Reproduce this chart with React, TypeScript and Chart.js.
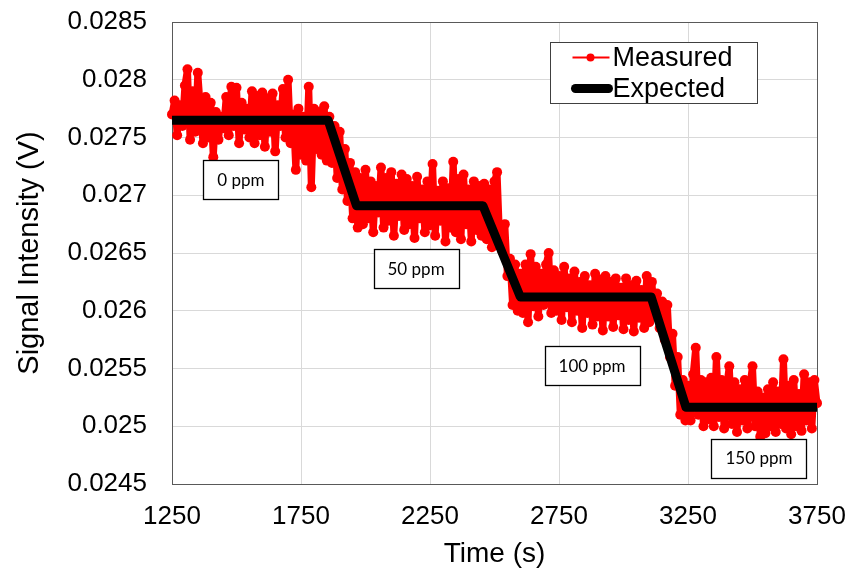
import React, { useEffect, useRef } from "react";
import { Chart, registerables } from "chart.js";

Chart.register(...registerables);

// ---- data ----
const sampleStart = 1250; // s
const sampleStep = 10; // s between measured samples

// Measured signal (V), one value per sample, 1250 s .. 3750 s
const measuredSeg0 = [
  0.0277, 0.02782, 0.02752, 0.02778, 0.0276, 0.02795, 0.02809, 0.02748, 0.0279, 0.02755,
  0.02806, 0.02775, 0.02745, 0.02785, 0.0275, 0.0278, 0.02733, 0.02772, 0.02748, 0.02768,
  0.02758, 0.02785, 0.02752, 0.02794, 0.0276, 0.02793, 0.02745, 0.0278, 0.02757, 0.02775,
  0.0275, 0.0279, 0.02745, 0.02786, 0.02752, 0.02789, 0.02742, 0.02784, 0.02755, 0.02788,
  0.02738, 0.02778, 0.0276, 0.02792, 0.0275, 0.028, 0.02745, 0.0277, 0.02722, 0.02775,
  0.02735, 0.02768, 0.0273, 0.02794, 0.02707, 0.02775, 0.0274, 0.02772, 0.02735, 0.02777,
  0.0273,
];
const measuredSeg1 = [
  0.02768, 0.02728, 0.0276, 0.02715, 0.02755, 0.02705, 0.0274, 0.02695, 0.02728, 0.0268,
  0.0272, 0.02672,
];
const measuredSeg2 = [
  0.02715, 0.02675, 0.02722, 0.0268, 0.02712, 0.02668, 0.02708, 0.02685, 0.02724, 0.02672,
  0.02715, 0.02678, 0.0272, 0.02665, 0.0271, 0.02682, 0.02718, 0.0267, 0.02714, 0.02675,
  0.02708, 0.02663, 0.02716, 0.0268, 0.02705, 0.02668, 0.02712, 0.02674, 0.02727, 0.02665,
  0.02704, 0.02678, 0.02712, 0.0266, 0.02706, 0.02672, 0.02729, 0.02668, 0.02714, 0.02662,
  0.02718, 0.02675, 0.02705, 0.0266, 0.02712, 0.0267, 0.02708, 0.02665,
];
const measuredSeg3 = [
  0.0271, 0.02662, 0.02705, 0.02655, 0.02712, 0.0272, 0.0266, 0.02652, 0.02675, 0.0263,
  0.02645, 0.02605, 0.0264, 0.026,
];
const measuredSeg4 = [
  0.02632, 0.02598, 0.0264, 0.0259, 0.02649, 0.02604, 0.02638, 0.02595, 0.02632, 0.02605,
  0.0264, 0.0265, 0.02598, 0.02635, 0.026, 0.0263, 0.02592, 0.02638, 0.02603, 0.02628,
  0.0259, 0.02634, 0.026, 0.02625, 0.02585, 0.0263, 0.02598, 0.02622, 0.02588, 0.02632,
  0.02595, 0.02627, 0.02583, 0.0263, 0.02595, 0.02625, 0.02586, 0.02628, 0.02596, 0.0262,
  0.02584, 0.02628, 0.02592, 0.02622, 0.02582, 0.02626, 0.02594, 0.02618, 0.02585, 0.0263,
  0.0259,
];
const measuredSeg5 = [
  0.02625, 0.02595, 0.02615, 0.02585, 0.02608, 0.02575, 0.02605, 0.0256, 0.0258, 0.02535,
  0.0256, 0.0251, 0.0254, 0.02505,
];
const measuredSeg6 = [
  0.02535, 0.02505, 0.02545, 0.02568, 0.0251, 0.0254, 0.025, 0.02538, 0.02506, 0.02542,
  0.025, 0.0256, 0.02508, 0.0254, 0.02498, 0.02535, 0.02552, 0.02502, 0.02538, 0.02495,
  0.02532, 0.02505, 0.0254, 0.02498, 0.02536, 0.02552, 0.025, 0.0253, 0.02491, 0.02525,
  0.02494, 0.02532, 0.025, 0.02538, 0.02495, 0.0253, 0.02502, 0.02558, 0.02498, 0.02535,
  0.02493, 0.0254, 0.025, 0.02528, 0.02496, 0.02545, 0.02505, 0.02538, 0.02498, 0.0254,
  0.0252,
];
const measuredValues = [
  ...measuredSeg0, ...measuredSeg1, ...measuredSeg2, ...measuredSeg3,
  ...measuredSeg4, ...measuredSeg5, ...measuredSeg6,
];

// Expected staircase (time s, signal V)
const expectedTimes = [1250, 1855, 1965, 2455, 2600, 3107, 3242, 3750];
const expectedValues = [0.02765, 0.02765, 0.02691, 0.02691, 0.02612, 0.02612, 0.025165, 0.025165];

// Axis ticks
const xTickValues = [1250, 1750, 2250, 2750, 3250, 3750];
const yTickValues = [0.0245, 0.025, 0.0255, 0.026, 0.0265, 0.027, 0.0275, 0.028, 0.0285];

// Concentration labels (text, anchor time s, anchor signal V)
const ppmTexts = ["0 ppm", "50 ppm", "100 ppm", "150 ppm"];
const ppmTimes = [1517, 2196, 2878, 3525];
const ppmValues = [0.027135, 0.026366, 0.025528, 0.024725];

const seriesNames = ["Measured", "Expected"];
const xTitle = "Time (s)";
const yTitle = "Signal Intensity (V)";

const FONT = "'Liberation Sans', Arial, sans-serif";

const overlayPlugin = {
  id: "overlay",
  beforeDatasetsDraw(chart: any) {
    const { ctx, chartArea: ca } = chart;
    ctx.save();
    ctx.strokeStyle = "#595959";
    ctx.lineWidth = 1;
    ctx.strokeRect(Math.round(ca.left) + 0.5, Math.round(ca.top) + 0.5, Math.round(ca.right - ca.left), Math.round(ca.bottom - ca.top));
    ctx.restore();
  },
  afterDatasetsDraw(chart: any) {
    const { ctx, chartArea: ca, scales } = chart;
    const xs = scales.x;
    const ys = scales.y;
    ctx.save();
    // ppm boxes
    ctx.font = "17px Lato, 'Open Sans', sans-serif";
    ctx.textAlign = "center";
    ctx.textBaseline = "middle";
    ppmTexts.forEach((t, i) => {
      const cx = xs.getPixelForValue(ppmTimes[i]);
      const cy = ys.getPixelForValue(ppmValues[i]);
      const w = Math.round(ctx.measureText(t).width + 28);
      const h = 39;
      const bx = Math.round(cx - w / 2) + 0.5;
      const by = Math.round(cy - h / 2) + 0.5;
      ctx.fillStyle = "#ffffff";
      ctx.fillRect(bx, by, w, h);
      ctx.strokeStyle = "#000000";
      ctx.lineWidth = 1.3;
      ctx.strokeRect(bx, by, w, h);
      ctx.fillStyle = "#000000";
      ctx.fillText(t, cx, cy + 1);
    });
    // legend
    const lw = 207;
    const lh = 61;
    const lx = Math.round(ca.right - 267) + 0.5;
    const ly = Math.round(ca.top + 20) + 0.5;
    ctx.fillStyle = "#ffffff";
    ctx.fillRect(lx, ly, lw, lh);
    ctx.strokeStyle = "#404040";
    ctx.lineWidth = 1;
    ctx.strokeRect(lx, ly, lw, lh);
    // Measured sample
    const r1 = ly + 15;
    ctx.strokeStyle = "#ff0000";
    ctx.lineWidth = 2;
    ctx.beginPath();
    ctx.moveTo(lx + 22, r1);
    ctx.lineTo(lx + 59, r1);
    ctx.stroke();
    ctx.fillStyle = "#ff0000";
    ctx.beginPath();
    ctx.arc(lx + 40, r1, 4, 0, Math.PI * 2);
    ctx.fill();
    // Expected sample
    const r2 = ly + 46;
    ctx.strokeStyle = "#000000";
    ctx.lineWidth = 9;
    ctx.lineCap = "round";
    ctx.beginPath();
    ctx.moveTo(lx + 25, r2);
    ctx.lineTo(lx + 58, r2);
    ctx.stroke();
    ctx.font = `27px ${FONT}`;
    ctx.fillStyle = "#000000";
    ctx.textAlign = "left";
    ctx.textBaseline = "middle";
    ctx.fillText(seriesNames[0], lx + 62, r1 + 1);
    ctx.fillText(seriesNames[1], lx + 62, r2 + 1);
    ctx.restore();
  },
};

export default function App() {
  const canvasRef = useRef<HTMLCanvasElement | null>(null);

  useEffect(() => {
    const canvas = canvasRef.current;
    if (!canvas) return;
    const measuredData = measuredValues.map((v, i) => ({ x: sampleStart + i * sampleStep, y: v }));
    const expectedData = expectedTimes.map((t, i) => ({ x: t, y: expectedValues[i] }));

    const chart = new Chart(canvas, {
      type: "line",
      data: {
        datasets: [
          {
            label: seriesNames[1],
            data: expectedData,
            borderColor: "#000000",
            backgroundColor: "#000000",
            borderWidth: 9,
            pointRadius: 0,
            borderJoinStyle: "round",
            borderCapStyle: "butt",
            tension: 0,
          },
          {
            label: seriesNames[0],
            data: measuredData,
            borderColor: "#ff0000",
            backgroundColor: "#ff0000",
            borderWidth: 7,
            pointRadius: 5,
            pointBorderWidth: 0,
            pointBackgroundColor: "#ff0000",
            borderJoinStyle: "round",
            tension: 0,
            clip: 6,
          },
        ],
      },
      options: {
        responsive: false,
        animation: false,
        events: [],
        layout: { padding: { top: 22, right: 30, bottom: 0, left: 0 } },
        plugins: {
          legend: { display: false },
          tooltip: { enabled: false },
        },
        scales: {
          x: {
            type: "linear",
            min: 1250,
            max: 3750,
            afterBuildTicks: (s: any) => {
              s.ticks = xTickValues.map((v) => ({ value: v }));
            },
            afterFit: (s: any) => {
              s.height = 87;
              s.paddingLeft = 0;
              s.paddingRight = 0;
              s.paddingTop = 0;
              s.paddingBottom = 0;
            },
            grid: { color: "#d9d9d9", lineWidth: 1, drawTicks: false },
            border: { display: true, color: "#595959", width: 1 },
            ticks: {
              color: "#000000",
              font: { family: FONT, size: 26 },
              padding: 17,
              maxRotation: 0,
              autoSkip: false,
              callback: (v: any) => String(v),
            },
            title: {
              display: true,
              text: xTitle,
              color: "#000000",
              font: { family: FONT, size: 28 },
              padding: { top: 4, bottom: 0 },
            },
          },
          y: {
            type: "linear",
            min: 0.0245,
            max: 0.0285,
            afterBuildTicks: (s: any) => {
              s.ticks = yTickValues.map((v) => ({ value: v }));
            },
            afterFit: (s: any) => {
              s.width = 172;
              s.paddingLeft = 0;
              s.paddingRight = 0;
              s.paddingTop = 0;
              s.paddingBottom = 0;
            },
            grid: { color: "#d9d9d9", lineWidth: 1, drawTicks: false },
            border: { display: true, color: "#595959", width: 1 },
            ticks: {
              color: "#000000",
              font: { family: FONT, size: 26 },
              padding: 25,
              autoSkip: false,
              callback: (v: any) => String(Number(Number(v).toFixed(5))),
            },
            title: {
              display: true,
              text: yTitle,
              color: "#000000",
              font: { family: FONT, size: 29 },
              padding: { top: 13, bottom: 0 },
            },
          },
        },
      },
      plugins: [overlayPlugin],
    } as any);

    return () => {
      chart.destroy();
    };
  }, []);

  return (
    <div style={{ position: "absolute", left: 0, top: 0, width: 847, height: 571, background: "#ffffff" }}>
      <canvas ref={canvasRef} width={847} height={571} style={{ display: "block" }} />
    </div>
  );
}
